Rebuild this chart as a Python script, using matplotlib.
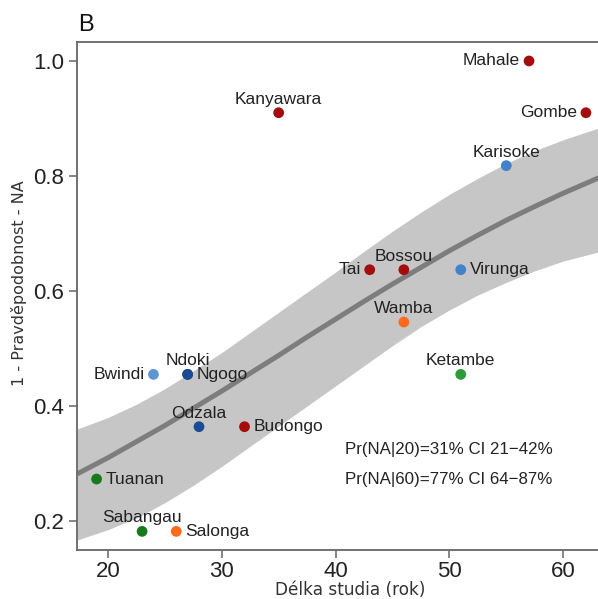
import numpy as np
import matplotlib.pyplot as plt

# sites: study length (years), 1 - Pr(NA), colour, label position
sites = ["Mahale", "Gombe", "Kanyawara", "Karisoke", "Tai", "Bossou", "Virunga",
         "Wamba", "Ketambe", "Bwindi", "Ngogo", "Ndoki", "Odzala", "Budongo",
         "Tuanan", "Sabangau", "Salonga"]
years = [57, 62, 35, 55, 43, 46, 51, 46, 51, 24, 27, 27, 28, 32, 19, 23, 26]
prob = [1.0, 0.91, 0.91, 0.818, 0.637, 0.637, 0.637, 0.546, 0.455, 0.455,
        0.455, 0.455, 0.364, 0.364, 0.273, 0.182, 0.182]
colors = ["#a30d0d", "#a30d0d", "#a30d0d", "#4182c8", "#a30d0d", "#a30d0d", "#4182c8",
          "#ff6a1c", "#2f9a3a", "#5d96d4", "#1b4c93", "#1b4c93", "#1b4c93", "#a30d0d",
          "#177a1c", "#177a1c", "#ff6a1c"]
label_pos = ["left", "left", "top", "top", "left", "top", "right",
             "top", "top", "left", "right", "top", "top", "right",
             "right", "top", "right"]

# fitted curve and band
fit_x = [17.3, 20, 22.5, 25, 27.5, 30, 32.5, 35, 37.5, 40, 42.5, 45,
         47.5, 50, 52.5, 55, 57.5, 60, 63.5]
fit_mid = [0.282, 0.310, 0.338, 0.366, 0.396, 0.426, 0.457, 0.488, 0.520, 0.551,
           0.582, 0.612, 0.641, 0.670, 0.697, 0.723, 0.747, 0.770, 0.800]
fit_hi = [0.360, 0.380, 0.403, 0.430, 0.461, 0.493, 0.528, 0.563, 0.598, 0.633,
          0.669, 0.704, 0.737, 0.768, 0.796, 0.822, 0.844, 0.863, 0.886]
fit_lo = [0.167, 0.185, 0.205, 0.232, 0.262, 0.295, 0.330, 0.365, 0.400, 0.435,
          0.470, 0.505, 0.538, 0.567, 0.593, 0.615, 0.635, 0.652, 0.670]

notes = ["Pr(NA|20)=31% CI 21\u221242%", "Pr(NA|60)=77% CI 64\u221287%"]

W, H = 598, 599
fig = plt.figure(figsize=(W / 100, H / 100), dpi=100)
ax = fig.add_axes([77 / W, 1 - 550 / H, 1 - 77 / W, (550 - 42) / H])

ax.fill_between(fit_x, fit_lo, fit_hi, color="#c6c6c6", lw=0, zorder=1)
ax.plot(fit_x, fit_mid, color="#7d7d7d", lw=3.6, solid_capstyle="butt", zorder=2)

ax.scatter(years, prob, s=60, c=colors, edgecolors="none", zorder=3)

offsets = {"left": ((-6.5, 0), "right", "center"),
           "right": ((6.5, 0), "left", "center"),
           "top": ((0, 6.5), "center", "baseline")}
for name, x, y, p in zip(sites, years, prob, label_pos):
    off, ha, va = offsets[p]
    ax.annotate(name, (x, y), xytext=off, textcoords="offset points",
                ha=ha, va=va, fontsize=12.5, family="Liberation Sans",
                color="#222222", zorder=4)

for i, t in enumerate(notes):
    ax.text(40.8, 0.324 - i * 0.051, t, fontsize=12.2, family="Liberation Sans",
            color="#222222", va="center", ha="left")

ax.set_xlim(17.28, 63.06)
ax.set_ylim(0.1496, 1.033)
ax.set_xticks([20, 30, 40, 50, 60])
ax.set_yticks([0.2, 0.4, 0.6, 0.8, 1.0])
ax.set_yticklabels(["0.2", "0.4", "0.6", "0.8", "1.0"])

for s in ["left", "bottom", "top"]:
    ax.spines[s].set_color("#666666")
    ax.spines[s].set_linewidth(1.3)
ax.spines["right"].set_visible(False)
ax.tick_params(length=6, width=1.1, color="#666666", labelsize=16, labelcolor="#222222")
ax.tick_params(axis="x", pad=2)
ax.tick_params(axis="y", pad=3)
for lab in ax.get_xticklabels() + ax.get_yticklabels():
    lab.set_family("Liberation Sans")

# axis titles placed in figure pixels
fig.text(350 / W, 1 - 590 / H, "Délka studia (rok)", fontsize=12.2, color="#333333",
         ha="center", va="center")
fig.text(19 / W, 1 - 283 / H, "1 - Pravděpodobnost - NA", fontsize=11.5, color="#333333",
         ha="center", va="center", rotation=90)

fig.text(78 / W, 1 - 25 / H, "B", fontsize=17, family="Liberation Sans",
         ha="left", va="center", color="#111111")

fig.savefig("out.png", dpi=100)
